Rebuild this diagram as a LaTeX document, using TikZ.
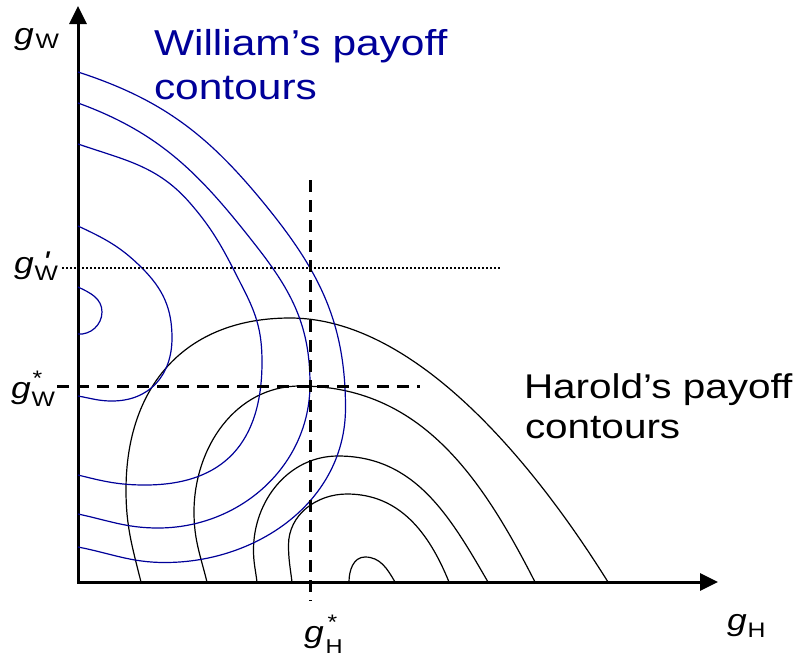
\documentclass[tikz,border=0pt]{standalone}
\usepackage{fontspec}
\setmainfont{Liberation Sans}[FakeStretch=1.18]
\usetikzlibrary{arrows.meta}
\definecolor{navy}{RGB}{0,0,153}
\newcommand{\wtext}{\fontsize{36}{40}\selectfont}
\newcommand{\htext}{\fontsize{34.3}{40}\selectfont}
\newcommand{\gsize}{\fontsize{30}{32}\selectfont}
\newcommand{\ssize}{\fontsize{21}{22}\selectfont}
\newcommand{\tsize}{\fontsize{20}{22}\selectfont}
\begin{document}
\begin{tikzpicture}[x=1pt,y=-1pt,
  axis/.style={line width=3pt, line join=miter, {Triangle[length=18pt,width=17pt]}-{Triangle[length=18pt,width=17pt]}},
  hcont/.style={line width=1.2pt, black},
  wcont/.style={line width=1.2pt, navy},
  eqline/.style={line width=3pt, dash pattern=on 12pt off 8pt},
  devline/.style={line width=2pt, dash pattern=on 2pt off 2pt},
  lab/.style={anchor=base west, inner sep=0pt, outer sep=0pt},
]
\useasboundingbox (0,0) rectangle (793,657);

% axes
\coordinate (O) at (78,582);
\coordinate (ytip) at (78,6);
\coordinate (xtip) at (718,582);
\draw[axis] (ytip) -- (O) -- (xtip);

% Harold's contours
\draw[hcont] (349,582) to[out=90,in=180] (365,557) to[out=0,in=120] (395,582);
\draw[hcont] (292,582) to[out=97,in=270] (288.5,545) to[out=90,in=180] (347,494) to[out=0,in=112] (449,582);
\draw[hcont] (257,582) to[out=97,in=270] (253.5,550) to[out=90,in=180] (338,456) to[out=0,in=120] (488,582);
\draw[hcont] (207,582) to[out=104,in=270] (194,512) to[out=90,in=180] (300,386) to[out=0,in=117] (535,582);
\draw[hcont] (141,582) to[out=104,in=270] (126,490) to[out=90,in=180,looseness=1.12] (290,318) to[out=0,in=122,looseness=0.8] (608,582);

% William's contours
\draw[wcont] (78,287) to[out=-25,in=90] (102,312) to[out=270,in=-5] (78,334);
\draw[wcont] (78,226) to[out=-25,in=135] (142,268) to[out=-45,in=90] (172,338) to[out=270,in=0,looseness=1.1] (112,401) to[out=180,in=-10] (78,396);
\draw[wcont] (78,144) to[out=-19,in=131] (190,203) to[out=-49,in=117] (244,290) to[out=-63,in=90] (262,362) to[out=270,in=0,looseness=1.2] (145,485) to[out=180,in=-14] (78,475);
\draw[wcont] (78,103) to[out=-20,in=128] (257,247) to[out=-52,in=90] (310,384) to[out=270,in=0] (158,528) to[out=180,in=-12] (78,514);
\draw[wcont] (78,72) to[out=-18,in=129] (267,207) to[out=-51,in=90] (345.5,408) to[out=270,in=0] (165,562.5) to[out=180,in=-11] (78,547);

% equilibrium and deviation lines
\coordinate (hsTop) at (310,180);
\coordinate (hsBot) at (310,601);
\coordinate (wsL) at (57,386);
\coordinate (wsR) at (420,386);
\coordinate (wpL) at (62,268);
\coordinate (wpR) at (500,268);
\draw[eqline] (hsTop) -- (hsBot);
\draw[eqline] (wsL) -- (wsR);
\draw[devline] (wpL) -- (wpR);

% texts
\node[lab, text=navy, font=\wtext] (wt1) at (154,55) {William’s payoff};
\node[lab, text=navy, font=\wtext] (wt2) at (154,99) {contours};
\node[lab, font=\htext] (ht1) at (524,398) {Harold’s payoff};
\node[lab, font=\htext] (ht2) at (525,438) {contours};

% axis labels
\node[lab] (lgW) at (14,44) {\gsize\itshape g\kern2pt\raisebox{-4pt}{\ssize\upshape W}};
\node[lab] (lgWp) at (14,273) {\gsize\itshape g\kern1pt\rlap{\kern8pt\raisebox{1pt}{\textquotesingle}}\raisebox{-7pt}{\ssize\upshape W}};
\node[lab] (lgWs) at (11,398) {\gsize\itshape g\kern1pt\rlap{\kern1pt\raisebox{13pt}{\ssize\upshape *}}\raisebox{-8pt}{\ssize\upshape W}};
\node[lab] (lgHs) at (304,642) {\gsize\itshape g\kern2pt\rlap{\kern2pt\raisebox{13pt}{\ssize\upshape *}}\raisebox{-11pt}{\tsize\upshape H}};
\node[lab] (lgH) at (727,630) {\gsize\itshape g\kern1pt\raisebox{-7pt}{\ssize\upshape H}};
\end{tikzpicture}
\end{document}
